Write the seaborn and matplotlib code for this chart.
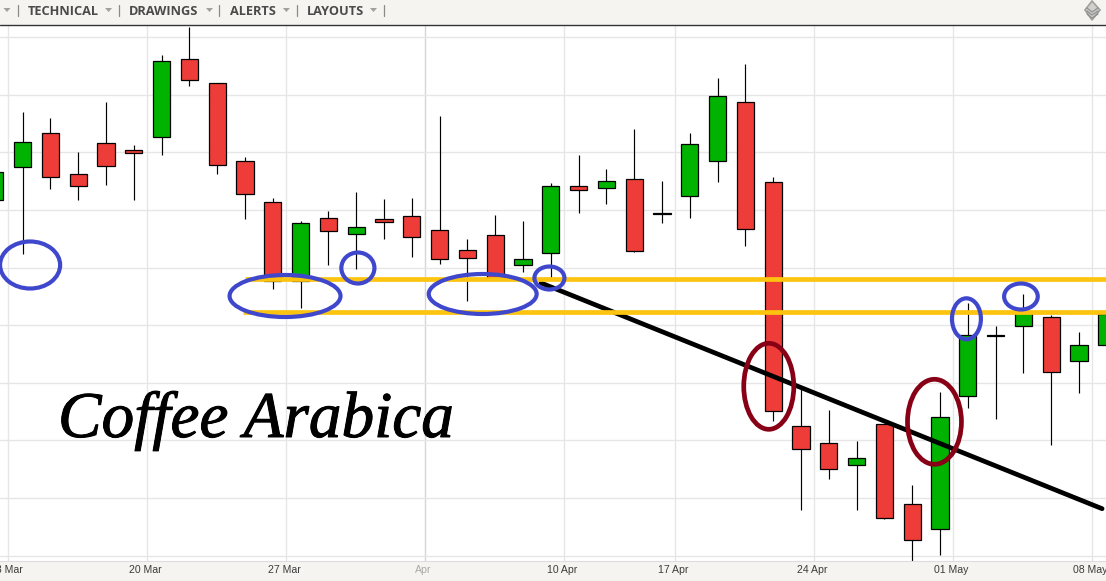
import matplotlib
matplotlib.use("Agg")
import matplotlib.pyplot as plt
import matplotlib.patheffects as pe
from matplotlib.patches import Ellipse, Polygon
from matplotlib.lines import Line2D
from matplotlib.transforms import ScaledTranslation
import pandas as pd
import seaborn as sns

highs = [427.7,488.3,482.3,447.7,497.7,454.7,545,573,516.7,443.3,402.3,378.7,389,407.7,400.7,402,484,361.3,384.7,378.7,
         417.3,445,431,470.7,419.3,466.7,521.7,536.3,422.7,211.7,190,159,175.7,114.7,207.7,296.7,274,306,284.7,267.7,294.3]
body_tops = [427.7,457.7,466.7,425.7,456.7,449.7,538.7,540.7,516.7,438.7,397.7,376.7,381.7,372.7,380.7,383.7,369.7,349.7,364.7,340.7,
             413.7,413.7,418.7,420.7,386.8,455.7,503.7,497.7,417.7,173.7,156.7,141.7,175.7,95.7,182.7,265,264.8,289,282.7,254.7,286]
body_bottoms = [399.7,432.7,422.7,413.7,433.7,446.7,462.7,519.7,434.7,405.7,319,319,368.7,365.7,378.3,362.7,340.7,341.7,321,334.7,
                346.7,409.7,411.7,348.7,385.8,403.7,438.7,370.7,188.7,150.7,130.7,134.7,82.3,59.7,70.7,203.7,263.8,273.7,227.7,238.7,254.7]
lows = [399.7,346,411.3,400.3,415.3,399.7,445,514.3,425.7,381.3,311.3,291.7,335.3,330.7,360.7,342.7,336,299.3,321,328,
        322,387.3,396,347.7,377.3,382.3,418.3,354.3,179.3,90.3,121.3,90.3,80.7,39.3,45,191.7,181,226.7,155,207.3,238.3]
directions = list("GGRRRRGRRRRGRGRRRRRG" "GRGRRGGRRRRGRRGGRGRGG")

grid_x = [0.47, 5.47, 10.47, 15.47, 20.47, 24.47, 29.47, 34.47, 39.47]
date_labels = ["13 Mar", "20 Mar", "27 Mar", "Apr", "10 Apr", "17 Apr", "24 Apr", "01 May", "08 May"]
grid_y = [562.7, 504.7, 447.7, 389.7, 331.7, 274.7, 216.7, 159.7, 101.7, 43.7]

support_levels = [320.7, 288.3]
support_starts = [9.0, 8.93]
trend_x = [19.65, 39.83]
trend_y = [317.0, 91.3]

blue_x = [1.27, 10.44, 13.06, 17.55, 19.95, 34.95, 36.91]
blue_y = [335.0, 304.0, 332.0, 306.0, 322.0, 281.2, 303.5]
blue_w = [2.16, 3.99, 1.19, 3.88, 1.08, 1.04, 1.21]
blue_h = [47, 42, 31, 40, 23, 41, 26]
red_x = [27.84, 33.80]
red_y = [213.7, 178.2]
red_w = [1.80, 1.94]
red_h = [86, 85]

menu_items = ["TECHNICAL", "DRAWINGS", "ALERTS", "LAYOUTS"]
menu_left = [27.5, 128.7, 229.6, 306.5]
menu_arrows = [7, 108.6, 209.5, 286.4, 373.5]
menu_seps = [17.6, 118.5, 219.4, 296.6, 383.8]

sns.set_theme(style="white")
W, H = 1106, 581
BAR = "#f5f4f0"
fig = plt.figure(figsize=(W / 100, H / 100), dpi=100, facecolor=BAR)
ax = fig.add_axes([0, (H - 561) / H, 1, (561 - 26) / H], facecolor="white")

df = pd.DataFrame({"i": range(len(highs)), "high": highs, "top": body_tops,
                   "bottom": body_bottoms, "low": lows, "dir": directions})
df["size"] = df["top"] - df["bottom"]

ax.vlines(df["i"], df["low"], df["high"], color="black", lw=0.85, zorder=2)
for d, col in (("R", "#ee3d38"), ("G", "#00b300")):
    sub = df[df["dir"] == d]
    sns.barplot(data=sub, x="i", y="size", bottom=sub["bottom"].to_numpy(), native_scale=True,
                width=0.62, color=col, saturation=1, edgecolor="black", linewidth=0.9,
                errorbar=None, ax=ax, zorder=3)

ax.set_xlim(0.187, 39.97)
ax.set_ylim(39, 574)
ax.set_xlabel("")
ax.set_ylabel("")
ax.set_xticks(grid_x)
ax.set_xticklabels(date_labels, fontsize=7.6, family="Liberation Sans", color="#3c3c3c")
ax.set_yticks(grid_y)
ax.set_yticklabels([])
ax.tick_params(axis="x", length=0, pad=3)
ax.tick_params(axis="y", length=0)
ax.set_axisbelow(True)
ax.grid(True, color="#e6e6e6", lw=1.0)
ax.get_xgridlines()[3].set_color("#d6d6d6")
ax.get_xticklabels()[3].set_color("#aaaaaa")
shift = ScaledTranslation(-1.5 / 100, 0, fig.dpi_scale_trans)
for lab in ax.get_xticklabels():
    lab.set_transform(lab.get_transform() + shift)
for s in ("left", "right", "top"):
    ax.spines[s].set_visible(False)
ax.spines["bottom"].set_color("#dddddd")
ax.spines["bottom"].set_linewidth(0.8)

ax.plot(trend_x, trend_y, color="black", lw=3.4, solid_capstyle="round", zorder=4)
for lvl, st in zip(support_levels, support_starts):
    ax.plot([st, 41], [lvl, lvl], color="#fdc40f", lw=3.4, solid_capstyle="butt", zorder=5)
for x, y, w, h in zip(blue_x, blue_y, blue_w, blue_h):
    ax.add_patch(Ellipse((x, y), w, h, fill=False, ec="#3f48cc", lw=3.0, zorder=6))
for x, y, w, h in zip(red_x, red_y, red_w, red_h):
    ax.add_patch(Ellipse((x, y), w, h, fill=False, ec="#880015", lw=3.4, zorder=7))

title = ax.text(58 / W, (561 - 437) / (561 - 26), "Coffee Arabica", transform=ax.transAxes,
                family="Liberation Serif", style="italic", fontsize=47, color="black",
                va="baseline", ha="left", zorder=8)
title.set_path_effects([pe.withStroke(linewidth=0.7, foreground="black")])

def fx(px):
    return px / W

def fy(py):
    return 1 - py / H

fig.add_artist(Line2D([0, 1], [fy(25.3), fy(25.3)], color="#333333", lw=1.0))
for name, left in zip(menu_items, menu_left):
    fig.text(fx(left), fy(14.6), name, family="Open Sans", weight="bold", fontsize=9.2, color="#4a4a4a", ha="left", va="baseline")
for x in menu_seps:
    fig.add_artist(Line2D([fx(x), fx(x)], [fy(5), fy(16)], color="#8a8a8a", lw=0.9))
for x in menu_arrows:
    fig.add_artist(Polygon([[fx(x - 3.5), fy(8)], [fx(x + 3.5), fy(8)], [fx(x), fy(12)]], closed=True,
                           transform=fig.transFigure, color="#a0a0a0", lw=0))
fig.add_artist(Polygon([[fx(1092), fy(1)], [fx(1100), fy(10)], [fx(1092), fy(20)], [fx(1085), fy(10)]], closed=True,
                       transform=fig.transFigure, fc="#d0d0cc", ec="#a0a0a0", lw=1.2))
for dy in (8, 11, 14):
    fig.add_artist(Line2D([fx(1087), fx(1092), fx(1098)], [fy(dy), fy(dy + 4), fy(dy)], color="#8f8f8f", lw=0.9))

fig.savefig("out.png", dpi=100, facecolor=fig.get_facecolor())
